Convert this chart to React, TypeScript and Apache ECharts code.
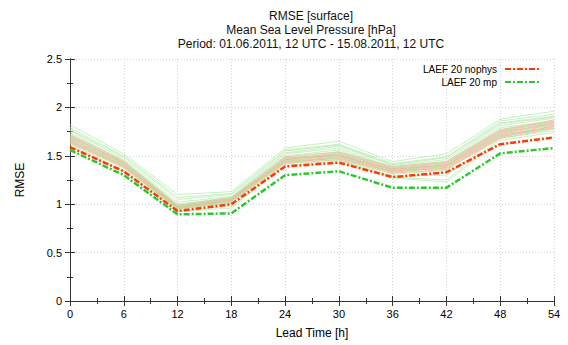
import React, { useEffect, useRef } from "react";
import * as echarts from "echarts";

const leadTimes = [0, 6, 12, 18, 24, 30, 36, 42, 48, 54];
const nophys = [1.59, 1.34, 0.93, 1.0, 1.39, 1.43, 1.28, 1.33, 1.62, 1.69];
const mp = [1.56, 1.3, 0.895, 0.905, 1.3, 1.34, 1.17, 1.17, 1.525, 1.58];

const nophysMembers = [
  [1.72, 1.45, 0.99, 1.07, 1.49, 1.54, 1.39, 1.44, 1.77, 1.87],
  [1.7, 1.43, 0.98, 1.06, 1.47, 1.52, 1.37, 1.42, 1.75, 1.85],
  [1.68, 1.42, 0.97, 1.05, 1.46, 1.51, 1.36, 1.41, 1.74, 1.83],
  [1.67, 1.41, 0.96, 1.04, 1.45, 1.5, 1.35, 1.4, 1.72, 1.82],
  [1.66, 1.4, 0.97, 1.05, 1.44, 1.49, 1.34, 1.39, 1.71, 1.8],
  [1.65, 1.39, 0.96, 1.03, 1.43, 1.48, 1.33, 1.38, 1.7, 1.79],
  [1.64, 1.4, 0.95, 1.04, 1.44, 1.47, 1.34, 1.37, 1.69, 1.81],
  [1.69, 1.44, 0.98, 1.06, 1.48, 1.5, 1.36, 1.4, 1.73, 1.84],
  [1.63, 1.38, 0.95, 1.02, 1.42, 1.46, 1.32, 1.36, 1.68, 1.78],
  [1.71, 1.42, 0.97, 1.05, 1.46, 1.53, 1.38, 1.43, 1.76, 1.86],
];

const mpMembers = [
  [1.82, 1.52, 1.1, 1.13, 1.58, 1.65, 1.44, 1.52, 1.88, 1.96],
  [1.79, 1.5, 1.07, 1.11, 1.56, 1.62, 1.42, 1.49, 1.86, 1.93],
  [1.76, 1.47, 1.02, 1.08, 1.53, 1.6, 1.4, 1.46, 1.83, 1.9],
  [1.74, 1.45, 1.0, 1.07, 1.52, 1.58, 1.38, 1.44, 1.81, 1.89],
  [1.72, 1.44, 0.99, 1.06, 1.5, 1.56, 1.37, 1.42, 1.79, 1.86],
  [1.7, 1.42, 0.98, 1.05, 1.48, 1.54, 1.35, 1.4, 1.77, 1.84],
  [1.68, 1.4, 0.97, 1.03, 1.47, 1.52, 1.33, 1.38, 1.75, 1.82],
  [1.66, 1.38, 0.96, 1.02, 1.45, 1.5, 1.31, 1.35, 1.72, 1.8],
  [1.64, 1.37, 0.95, 1.01, 1.44, 1.48, 1.29, 1.3, 1.7, 1.78],
  [1.62, 1.35, 0.93, 0.98, 1.42, 1.46, 1.28, 1.25, 1.68, 1.76],
  [1.6, 1.33, 0.92, 0.96, 1.4, 1.45, 1.27, 1.23, 1.66, 1.74],
  [1.77, 1.49, 1.05, 1.1, 1.55, 1.61, 1.41, 1.48, 1.84, 1.91],
];

const FONT = "Liberation Sans";

export default function App() {
  const ref = useRef<HTMLDivElement>(null);
  useEffect(() => {
    if (!ref.current) return;
    const chart = echarts.init(ref.current, undefined, { renderer: "svg" });
    const pair = (vals: number[]) => leadTimes.map((x, i) => [x, vals[i]]);
    const memberSeries = (arr: number[][], color: string) =>
      arr.map((vals) => ({
        type: "line",
        data: pair(vals),
        symbol: "none",
        silent: true,
        lineStyle: { color, width: 1, opacity: 0.7 },
        z: 2,
      }));
    const axisLine = { show: true, lineStyle: { color: "#333", width: 1 } };
    chart.setOption({
      animation: false,
      textStyle: { fontFamily: FONT },
      title: {
        text: "RMSE [surface]\nMean Sea Level Pressure [hPa]\nPeriod: 01.06.2011, 12 UTC - 15.08.2011, 12 UTC",
        left: 306,
        top: 4,
        textAlign: "center",
        textStyle: { fontFamily: FONT, fontSize: 12, fontWeight: "normal", color: "#111", lineHeight: 14 },
      },
      legend: {
        data: ["LAEF 20 nophys", "LAEF 20 mp"],
        orient: "vertical",
        right: 21,
        top: 59,
        align: "right",
        itemWidth: 36,
        itemHeight: 8,
        itemGap: 3,
        itemStyle: { opacity: 0 },
        lineStyle: { width: 2 },
        textStyle: { fontFamily: FONT, fontSize: 10, color: "#000", padding: [0, 3, 0, 0] },
      },
      grid: { left: 70, right: 14, top: 59, bottom: 44 },
      xAxis: [
        {
          type: "value",
          min: 0,
          max: 54,
          interval: 6,
          name: "Lead Time [h]",
          nameLocation: "middle",
          nameGap: 26,
          nameTextStyle: { fontFamily: FONT, fontSize: 12, color: "#000" },
          axisLine,
          axisTick: { show: true, inside: true, length: 5, lineStyle: { color: "#333" } },
          minorTick: { show: true, splitNumber: 2, length: 3, lineStyle: { color: "#333" } },
          axisLabel: { fontFamily: FONT, fontSize: 11, color: "#000", margin: 7 },
          splitLine: { show: true, lineStyle: { color: "#d4d4d4", type: [1, 2], width: 1 } },
        },
        {
          type: "value",
          position: "top",
          min: 0,
          max: 54,
          interval: 6,
          axisLine,
          axisTick: { show: true, inside: true, length: 5, lineStyle: { color: "#333" } },
          minorTick: { show: true, splitNumber: 2, length: 3, lineStyle: { color: "#333" } },
          axisLabel: { show: false },
          splitLine: { show: false },
        },
      ],
      yAxis: [
        {
          type: "value",
          min: 0,
          max: 2.5,
          interval: 0.5,
          name: "RMSE",
          nameLocation: "middle",
          nameGap: 44,
          nameTextStyle: { fontFamily: FONT, fontSize: 12, color: "#000" },
          axisLine,
          axisTick: { show: true, inside: true, length: 5, lineStyle: { color: "#333" } },
          minorTick: { show: true, splitNumber: 2, length: 3, lineStyle: { color: "#333" } },
          axisLabel: { fontFamily: FONT, fontSize: 11, color: "#000", margin: 8 },
          splitLine: { show: true, lineStyle: { color: "#d4d4d4", type: [1, 2], width: 1 } },
        },
        {
          type: "value",
          position: "right",
          min: 0,
          max: 2.5,
          interval: 0.5,
          axisLine,
          axisTick: { show: true, inside: true, length: 5, lineStyle: { color: "#333" } },
          minorTick: { show: true, splitNumber: 2, length: 3, lineStyle: { color: "#333" } },
          axisLabel: { show: false },
          splitLine: { show: false },
        },
      ],
      series: [
        ...memberSeries(nophysMembers, "#f8a890"),
        ...memberSeries(mpMembers, "#b0e8a8"),
        {
          name: "LAEF 20 nophys",
          type: "line",
          data: pair(nophys),
          symbol: "none",
          lineStyle: { color: "#ff3a00", width: 2.5, type: [6, 2, 2, 2] },
          itemStyle: { color: "#ff3a00" },
          z: 5,
        },
        {
          name: "LAEF 20 mp",
          type: "line",
          data: pair(mp),
          symbol: "none",
          lineStyle: { color: "#2ec82e", width: 2.5, type: [6, 2, 2, 2] },
          itemStyle: { color: "#2ec82e" },
          z: 5,
        },
      ],
    });
    return () => chart.dispose();
  }, []);
  return <div ref={ref} style={{ width: 568, height: 345, position: "absolute", left: 0, top: 0, background: "#fff" }} />;
}
